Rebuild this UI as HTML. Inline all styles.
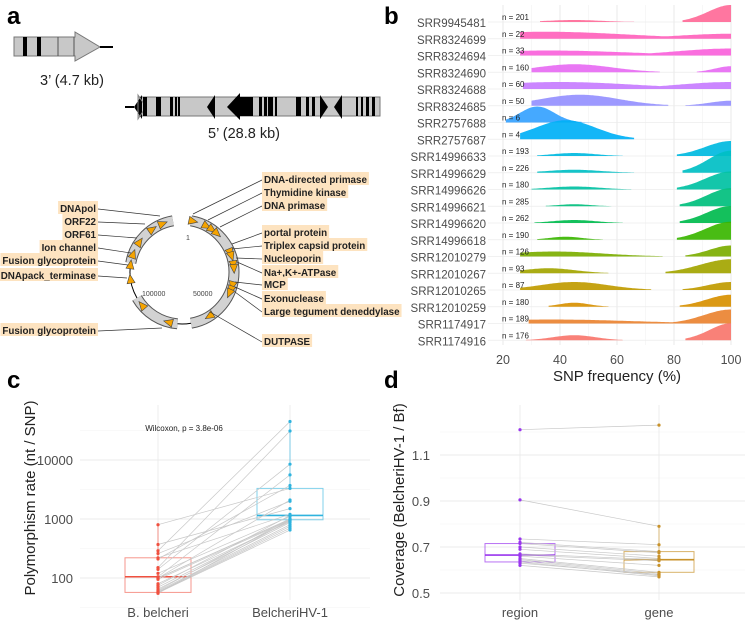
<!DOCTYPE html>
<html><head><meta charset="utf-8"><style>
html,body{margin:0;padding:0;background:#fff;}
svg{display:block;font-family:"Liberation Sans",Arial,sans-serif;}
.lbl{font-weight:bold;font-size:9.8px;fill:#222;font-family:"Liberation Sans",Arial,sans-serif;}
</style></head><body>
<svg id="fig" width="749" height="641" viewBox="0 0 749 641" xmlns="http://www.w3.org/2000/svg">
<text x="7" y="24" font-size="24" font-weight="bold">a</text>
<text x="384" y="24" font-size="24" font-weight="bold">b</text>
<text x="7" y="388" font-size="24" font-weight="bold">c</text>
<text x="384" y="388" font-size="24" font-weight="bold">d</text>

<g>
<path d="M14,37 H75 V32 L100,47 L75,61 V56 H14 Z" fill="#c8c8c8" stroke="#777" stroke-width="1"/>
<rect x="23" y="37" width="4" height="19" fill="#000"/>
<rect x="37" y="37" width="4" height="19" fill="#000"/>
<line x1="58" y1="37" x2="58" y2="56" stroke="#555"/>
<line x1="74" y1="37" x2="74" y2="56" stroke="#555"/>
<line x1="100" y1="47" x2="113" y2="47" stroke="#000" stroke-width="2"/>
<text x="40" y="85" font-size="14.5" fill="#222">3’ (4.7 kb)</text>
</g>
<g>
<line x1="125" y1="107" x2="134" y2="107" stroke="#000" stroke-width="2"/>
<rect x="138" y="97" width="242" height="19" fill="#c8c8c8" stroke="#777"/>
<path d="M134,107 L142,95 L142,119 Z" fill="#000"/>
<path d="M146,107 L138,95 L138,119 Z" fill="none" stroke="#888"/>
<rect x="143" y="97" width="4" height="19" fill="#000"/>
<rect x="156" y="97" width="5" height="19" fill="#000"/>
<rect x="170" y="97" width="3" height="19" fill="#000"/>
<rect x="175" y="97" width="2" height="19" fill="#000"/>
<rect x="178" y="97" width="2" height="19" fill="#000"/>
<path d="M207,107 L215,95 L215,119 Z" fill="#000"/>
<path d="M227,107 L240,93 V97 H253 V116 H240 V120 Z" fill="#000"/>
<rect x="259" y="97" width="3" height="19" fill="#000"/>
<rect x="264" y="97" width="3" height="19" fill="#000"/>
<rect x="268" y="97" width="5" height="19" fill="#000"/>
<rect x="275" y="97" width="2" height="19" fill="#000"/>
<rect x="296" y="97" width="5" height="19" fill="#000"/>
<rect x="306" y="97" width="3" height="19" fill="#000"/>
<rect x="312" y="97" width="3" height="19" fill="#000"/>
<path d="M320,95 L328,107 L320,119 Z" fill="#000"/>
<path d="M334,107 L342,95 L342,119 Z" fill="#000"/>
<rect x="356" y="97" width="2" height="19" fill="#000"/>
<rect x="361" y="97" width="2" height="19" fill="#000"/>
<rect x="366" y="97" width="3" height="19" fill="#000"/>
<rect x="372" y="97" width="3" height="19" fill="#000"/>
<text x="208" y="138" font-size="14.5" fill="#222">5’ (28.8 kb)</text>
</g>

<g id="circmap"></g>
<g id="panelB"></g>
<g id="panelC"></g>
<g id="panelD"></g>
</svg>
<script>
const NS="http://www.w3.org/2000/svg";
function mk(parent,tag,attrs,text){const e=document.createElementNS(NS,tag);for(const k in attrs)e.setAttribute(k,attrs[k]);if(text!==undefined)e.textContent=text;parent.appendChild(e);return e;}

/* ---------- Panel a circular map ---------- */
const cm=document.getElementById('circmap');
const cx=182,cy=272,R=52;
function pt(a,r){const t=a*Math.PI/180;return [cx+r*Math.cos(t),cy+r*Math.sin(t)];}
function arc(a0,a1,r){const p0=pt(a0,r),p1=pt(a1,r);const large=Math.abs(a1-a0)>180?1:0;return `M${p0[0]},${p0[1]} A${r},${r} 0 ${large} 1 ${p1[0]},${p1[1]}`;}
const ringSegs=[[-80,80],[95,150],[190,260]];
ringSegs.forEach(s=>{
 mk(cm,'path',{d:arc(s[0],s[1],R),fill:'none',stroke:'#555','stroke-width':11});
 mk(cm,'path',{d:arc(s[0],s[1],R),fill:'none',stroke:'#d2d2d2','stroke-width':9});
});
mk(cm,'path',{d:arc(150,190,R),fill:'none',stroke:'#000','stroke-width':1});
mk(cm,'path',{d:arc(80,95,R),fill:'none',stroke:'#000','stroke-width':1});
mk(cm,'text',{x:186,y:240,'font-size':7,fill:'#444'},'1');
mk(cm,'text',{x:142,y:296,'font-size':7,fill:'#444'},'100000');
mk(cm,'text',{x:193,y:296,'font-size':7,fill:'#444'},'50000');
const markAngles=[-78,-62,-55,-48,-22,-18,-8,-4,15,20,24,58,105,140,172,188,200,215,235,248];
markAngles.forEach(a=>{
 const p=pt(a,R);
 mk(cm,'path',{d:`M${p[0]-4},${p[1]-4} L${p[0]+5},${p[1]} L${p[0]-4},${p[1]+4} Z`,fill:'#f5a300',stroke:'#444','stroke-width':0.6,transform:`rotate(${a+90},${p[0]},${p[1]})`});
});
const rightLabels=[["DNA-directed primase",183,193,214],["Thymidine kinase",196,208,220],["DNA primase",209,220,227],["portal protein",236,232,244],["Triplex capsid protein",249,232,249],["Nucleoporin",262,236,258],["Na+,K+-ATPase",276,237,262],["MCP",288,235,282],["Exonuclease",302,235,287],["Large tegument deneddylase",315,235,292],["DUTPASE",345,210,312]];
rightLabels.forEach(l=>{
 mk(cm,'line',{x1:262,y1:l[1]-3,x2:l[2],y2:l[3],stroke:'#333','stroke-width':0.7});
 const r=mk(cm,'rect',{x:262,y:l[1]-11,width:10,height:13,fill:'#fde3c0'});
 const t=mk(cm,'text',{x:264,y:l[1],class:'lbl'},l[0]);
 
 
 r.setAttribute('width',t.getComputedTextLength()+4);
});
const leftLabels=[["DNApol",212,160,216],["ORF22",225,145,224],["ORF61",238,137,238],["Ion channel",251,131,253],["Fusion glycoprotein",264,128,265],["DNApack_terminase",279,127,278],["Fusion glycoprotein",334,162,328]];
leftLabels.forEach(l=>{
 mk(cm,'line',{x1:98,y1:l[1]-3,x2:l[2],y2:l[3],stroke:'#333','stroke-width':0.7});
 const r=mk(cm,'rect',{x:90,y:l[1]-11,width:10,height:13,fill:'#fde3c0'});
 const t=mk(cm,'text',{x:96,y:l[1],class:'lbl','text-anchor':'end'},l[0]);
 
 
 const w=t.getComputedTextLength()+4;
 r.setAttribute('x',98-w);r.setAttribute('width',w);
});

/* ---------- Panel b data ---------- */
const sampleNames=["SRR9945481","SRR8324699","SRR8324694","SRR8324690","SRR8324688","SRR8324685","SRR2757688","SRR2757687","SRR14996633","SRR14996629","SRR14996626","SRR14996621","SRR14996620","SRR14996618","SRR12010279","SRR12010267","SRR12010265","SRR12010259","SRR1174917","SRR1174916"];
const snpCounts=[201,22,33,160,60,50,6,4,193,226,180,285,262,190,126,93,87,180,189,176];
const lowStart=[33,26,26,30,27,30,21,26,32,32,30,35,31,32,26,26,26,36,29,28];
const lowPeak=[45,35,36,45,40,47,32,42,45,45,45,45,45,42,38,36,45,45,37,45];
const lowEnd=[66,100,100,75,100,78,77,66,62,66,65,58,62,55,76,57,72,57,100,62];
const lowDensity=[2,7,5,8,7,11,16,19,3,3,3,2,3,3,5,5,8,4,4,5];
const highStart=[83,60,60,88,60,84,100,100,81,83,81,82,82,81,84,77,83,82,80,84];
const highDensity=[17,5,7,6,7,5,0,0,15,22,18,18,17,18,11,14,8,12,14,17];
const xTicksB=[20,40,60,80,100];

const gB=document.getElementById('panelB');
const bx0=503,bx1=731;
const xB=v=>bx0+(v-20)*(bx1-bx0)/80;
const rowY=i=>22+i*16.75;
function hcl2rgb(h,c,l){const hr=h*Math.PI/180,U=c*Math.cos(hr),V=c*Math.sin(hr);const Y=l>8?Math.pow((l+16)/116,3):l/903.3;const un=0.1978398,vn=0.4683363;const u=U/(13*l)+un,v=V/(13*l)+vn;const X=9*Y*u/(4*v);const Z=Y*(12-3*u-20*v)/(4*v);let r=3.240479*X-1.53715*Y-0.498535*Z,g=-0.969256*X+1.875992*Y+0.041556*Z,b=0.055648*X-0.204043*Y+1.057311*Z;const gm=x=>{x=x<=0.0031308?12.92*x:1.055*Math.pow(x,1/2.4)-0.055;return Math.round(Math.max(0,Math.min(1,x))*255);};return `rgb(${gm(r)},${gm(g)},${gm(b)})`;}
for(let v=20;v<=100;v+=10){mk(gB,'line',{x1:xB(v),y1:5,x2:xB(v),y2:345,stroke:v%20===0?'#e6e6e6':'#f2f2f2','stroke-width':v%20===0?0.9:0.6});}
sampleNames.forEach((n,i)=>{mk(gB,'line',{x1:bx0-15,y1:rowY(i),x2:bx1,y2:rowY(i),stroke:'#ececec','stroke-width':0.8});});
function lowF(i,t){const w=(i===6?(lowPeak[i]-lowStart[i])/1.3:Math.max(lowPeak[i]-lowStart[i],lowEnd[i]-lowPeak[i])/1.6);return lowDensity[i]*Math.exp(-Math.pow((t-lowPeak[i])/w,2));}
function highF(i,t){if(highDensity[i]===0||t<highStart[i])return 0;const w=(100-highStart[i])/1.5;return highDensity[i]*Math.exp(-Math.pow((100-t)/w,2));}
function pathFor(i,a,b,f){const y0=rowY(i);let d=`M${xB(a)},${y0}`;for(let t=a;t<=b+1e-9;t+=0.5){d+=` L${xB(t).toFixed(1)},${(y0-f(t)).toFixed(1)}`;}d+=` L${xB(b)},${y0} Z`;return d;}
sampleNames.forEach((n,i)=>{
 const hue=15+(19-i)*(360/20);
 const col=hcl2rgb(hue,100,65);
 const y0=rowY(i);
 const lbl=mk(gB,'text',{x:486,y:y0+5,'font-size':11.5,fill:'#4d4d4d','text-anchor':'end'},n);
 
 
 if(lowEnd[i]>=highStart[i]){
  const p=mk(gB,'path',{d:pathFor(i,lowStart[i],100,t=>Math.max(lowF(i,t),t>=highStart[i]?highF(i,t):0)),fill:col,'fill-opacity':0.92});
  
  
 } else {
  const p=mk(gB,'path',{d:pathFor(i,lowStart[i],lowEnd[i],t=>lowF(i,t)),fill:col,'fill-opacity':0.92});
  
  
  if(highDensity[i]>0){
   const q=mk(gB,'path',{d:pathFor(i,highStart[i],100,t=>highF(i,t)),fill:col,'fill-opacity':0.92});
   
   
  }
 }
 const nt=mk(gB,'text',{x:502,y:y0-2,'font-size':8,fill:'#222'},'n = '+snpCounts[i]);
 
 
});
xTicksB.forEach(v=>{const t=mk(gB,'text',{x:xB(v),y:364,'font-size':12.5,fill:'#4d4d4d','text-anchor':'middle'},String(v));});
{const t=mk(gB,'text',{x:617,y:381,'font-size':15,fill:'#222','text-anchor':'middle'},'SNP frequency (%)');}

/* ---------- Panel c data ---------- */
const cCategories=["B. belcheri","BelcheriHV-1"];
const hostRate=[800,370,290,260,220,210,150,140,120,105,100,100,95,80,75,70,65,62,60,58,57,56,55,100];
const virusRate=[3300,1500,45000,2000,1200,3700,31000,8500,1100,5600,2100,980,950,900,1150,930,870,1000,800,750,700,650,960,1000];
const cYTicks=[100,1000,10000];
const cBoxHost=[57,105,220,55,800];
const cBoxVirus=[970,1150,3300,650,45000];

const gC=document.getElementById('panelC');
const yC=v=>578-(Math.log10(v)-2)*59;
const xC=i=>[158,290][i];
[1.5,2,2.5,3,3.5,4,4.5].forEach(e=>{mk(gC,'line',{x1:80,y1:yC(Math.pow(10,e)),x2:370,y2:yC(Math.pow(10,e)),stroke:e%1===0?'#ebebeb':'#f4f4f4','stroke-width':e%1===0?0.9:0.6});});
[0,1].forEach(i=>mk(gC,'line',{x1:xC(i),y1:405,x2:xC(i),y2:600,stroke:'#ebebeb','stroke-width':0.9}));
cYTicks.forEach(v=>{const t=mk(gC,'text',{x:73,y:yC(v)+5,'font-size':13,fill:'#4d4d4d','text-anchor':'end'},String(v));});
cCategories.forEach((c,i)=>{const t=mk(gC,'text',{x:xC(i),y:617,'font-size':13,fill:'#4d4d4d','text-anchor':'middle'},c);});
{const t=mk(gC,'text',{x:0,y:0,'font-size':15,fill:'#222','text-anchor':'middle',transform:'translate(35,498) rotate(-90)'},'Polymorphism rate (nt / SNP)');}
{const t=mk(gC,'text',{x:184,y:431,'font-size':8,fill:'#222','text-anchor':'middle'},'Wilcoxon, p = 3.8e-06');}
function boxC(i,b,col,name){
 const x=xC(i),hw=33;
 const g=mk(gC,'g',{});
 
 
 mk(g,'line',{x1:x,y1:yC(b[2]),x2:x,y2:yC(b[4]),stroke:col,'stroke-width':1,'stroke-opacity':0.6});
 mk(g,'line',{x1:x,y1:yC(b[0]),x2:x,y2:yC(b[3]),stroke:col,'stroke-width':1,'stroke-opacity':0.6});
 mk(g,'rect',{x:x-hw,y:yC(b[2]),width:2*hw,height:yC(b[0])-yC(b[2]),fill:'none',stroke:col,'stroke-width':1,'stroke-opacity':0.6});
 mk(g,'line',{x1:x-hw,y1:yC(b[1]),x2:x+hw,y2:yC(b[1]),stroke:col,'stroke-width':1.6});
}
boxC(0,cBoxHost,'#f0503f','box-host');
boxC(1,cBoxVirus,'#2fb3de','box-virus');
hostRate.forEach((h,k)=>{const l=mk(gC,'line',{x1:xC(0),y1:yC(h),x2:xC(1),y2:yC(virusRate[k]),stroke:'#c8c8c8','stroke-width':0.7});});
hostRate.forEach(h=>{const c=mk(gC,'circle',{cx:xC(0),cy:yC(h),r:1.6,fill:'#f0503f'});});
virusRate.forEach(h=>{const c=mk(gC,'circle',{cx:xC(1),cy:yC(h),r:1.6,fill:'#2fb3de'});});

/* ---------- Panel d data ---------- */
const dCategories=["region","gene"];
const regionCov=[1.21,0.905,0.735,0.72,0.715,0.70,0.69,0.67,0.665,0.66,0.65,0.645,0.64,0.635,0.63,0.62];
const geneCov=[1.23,0.79,0.71,0.68,0.675,0.66,0.65,0.645,0.64,0.62,0.59,0.585,0.58,0.575,0.58,0.57];
const dYTicks=[0.5,0.7,0.9,1.1];
const dBoxRegion=[0.635,0.665,0.715,0.62,0.735];
const dBoxGene=[0.59,0.645,0.68,0.57,0.79];

const gD=document.getElementById('panelD');
const yD=v=>593-(v-0.5)*230;
const xD=i=>[520,659][i];
[0.5,0.6,0.7,0.8,0.9,1.0,1.1,1.2].forEach((v,k)=>{mk(gD,'line',{x1:440,y1:yD(v),x2:745,y2:yD(v),stroke:k%2===0?'#ebebeb':'#f4f4f4','stroke-width':k%2===0?0.9:0.6});});
[0,1].forEach(i=>mk(gD,'line',{x1:xD(i),y1:405,x2:xD(i),y2:600,stroke:'#ebebeb','stroke-width':0.9}));
dYTicks.forEach(v=>{const t=mk(gD,'text',{x:430,y:yD(v)+5,'font-size':13,fill:'#4d4d4d','text-anchor':'end'},v.toFixed(1));});
dCategories.forEach((c,i)=>{const t=mk(gD,'text',{x:xD(i),y:617,'font-size':13,fill:'#4d4d4d','text-anchor':'middle'},c);});
{const t=mk(gD,'text',{x:0,y:0,'font-size':15,fill:'#222','text-anchor':'middle',transform:'translate(404,500) rotate(-90)'},'Coverage (BelcheriHV-1 / Bf)');}
function boxD(i,b,col,name){
 const x=xD(i),hw=35;
 const g=mk(gD,'g',{});
 
 
 mk(g,'line',{x1:x,y1:yD(b[2]),x2:x,y2:yD(b[4]),stroke:col,'stroke-opacity':0.6});
 mk(g,'line',{x1:x,y1:yD(b[0]),x2:x,y2:yD(b[3]),stroke:col,'stroke-opacity':0.6});
 mk(g,'rect',{x:x-hw,y:yD(b[2]),width:2*hw,height:yD(b[0])-yD(b[2]),fill:'none',stroke:col,'stroke-width':1,'stroke-opacity':0.7});
 mk(g,'line',{x1:x-hw,y1:yD(b[1]),x2:x+hw,y2:yD(b[1]),stroke:col,'stroke-width':1.6});
}
boxD(0,dBoxRegion,'#9a36ee','box-region');
boxD(1,dBoxGene,'#c8922a','box-gene');
regionCov.forEach((r,k)=>{const l=mk(gD,'line',{x1:xD(0),y1:yD(r),x2:xD(1),y2:yD(geneCov[k]),stroke:'#c8c8c8','stroke-width':0.7});});
regionCov.forEach(v=>{const c=mk(gD,'circle',{cx:xD(0),cy:yD(v),r:1.6,fill:'#9a36ee'});});
geneCov.forEach(v=>{const c=mk(gD,'circle',{cx:xD(1),cy:yD(v),r:1.6,fill:'#c8922a'});});
</script>
</body></html>
